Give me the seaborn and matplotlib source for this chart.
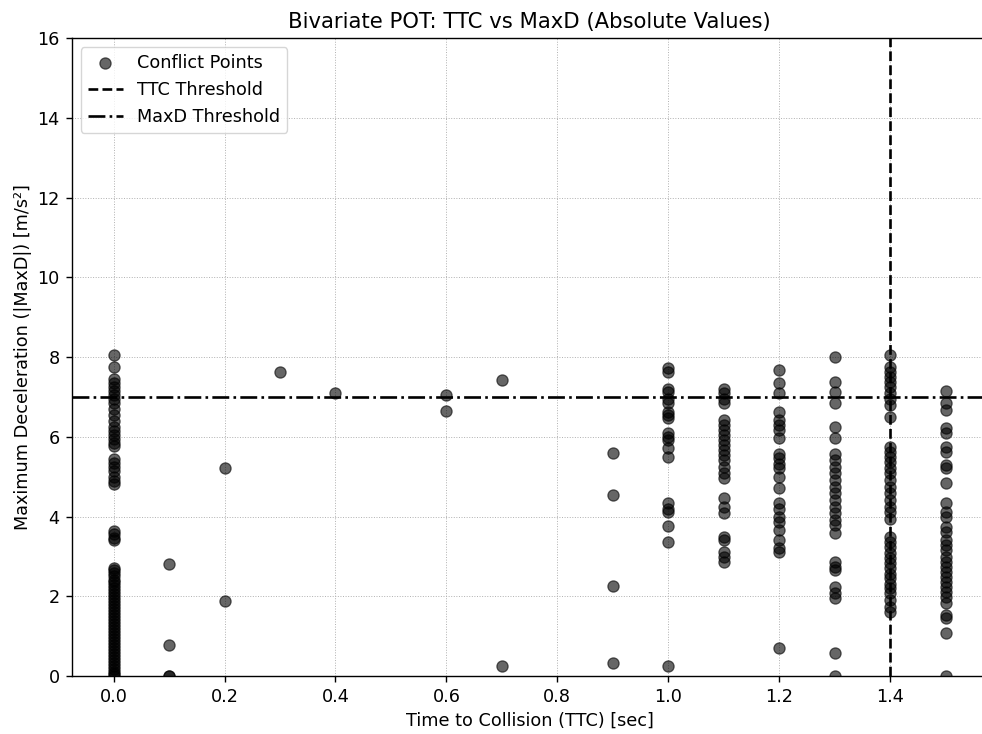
"""
Bivariate POT scatter: TTC vs absolute maximum deceleration,
with the TTC and MaxD threshold lines.
"""

import matplotlib
matplotlib.use('Agg')
import matplotlib.pyplot as plt
import numpy as np
import pandas as pd
import seaborn as sns

# MaxD values (m/s^2), grouped by TTC value (sec)
maxd_ttc_00 = [8.05, 7.75, 7.45, 7.35, 7.25, 7.15, 7.05, 6.95, 6.85, 6.7, 6.55,
               6.4, 6.25, 6.15, 6.05, 5.95, 5.85, 5.78, 5.45, 5.35, 5.25, 5.15,
               5.0, 4.9, 4.82, 3.65, 3.55, 3.45, 3.4, 2.72, 2.65, 2.58, 2.5,
               2.42, 2.35, 2.28, 2.2, 2.12, 2.05, 1.98, 1.9, 1.82, 1.75, 1.68,
               1.6, 1.52, 1.45, 1.38, 1.3, 1.22, 1.15, 1.08, 1.0, 0.92, 0.85,
               0.78, 0.7, 0.62, 0.55, 0.48, 0.4, 0.32, 0.25, 0.18, 0.1, 0.05, 0.0]
maxd_ttc_01 = [2.81, 0.78, 0.0, 0.0]
maxd_ttc_02 = [5.22, 1.89]
maxd_ttc_03 = [7.63]
maxd_ttc_04 = [7.10]
maxd_ttc_06 = [7.05, 6.65]
maxd_ttc_07 = [7.42, 0.25]
maxd_ttc_09 = [5.60, 4.53, 2.27, 0.32]
maxd_ttc_10 = [7.72, 7.63, 7.21, 7.13, 6.96, 6.84, 6.63, 6.55, 6.46, 6.09, 6.0,
               5.92, 5.71, 5.50, 4.33, 4.20, 4.12, 3.77, 3.35, 0.25]
maxd_ttc_11 = [7.21, 7.09, 6.96, 6.84, 6.42, 6.29, 6.17, 6.04, 5.92, 5.79, 5.67,
               5.54, 5.42, 5.25, 5.08, 4.96, 4.46, 4.25, 4.08, 3.49, 3.41, 3.12,
               2.99, 2.87]
maxd_ttc_12 = [7.67, 7.36, 7.09, 6.63, 6.42, 6.29, 6.17, 5.96, 5.58, 5.46, 5.33,
               5.21, 5.0, 4.71, 4.33, 4.20, 4.0, 3.87, 3.66, 3.41, 3.20, 3.12, 0.70]
maxd_ttc_13 = [7.99, 7.38, 7.13, 6.86, 6.24, 5.96, 5.58, 5.42, 5.25, 5.08, 4.92,
               4.75, 4.58, 4.41, 4.25, 4.08, 3.91, 3.79, 3.58, 2.87, 2.74, 2.66,
               2.24, 2.07, 1.95, 0.57, 0.0]
maxd_ttc_14 = [8.05, 7.76, 7.63, 7.51, 7.38, 7.26, 7.09, 6.96, 6.80, 6.50, 5.75,
               5.63, 5.50, 5.37, 5.21, 5.08, 4.92, 4.75, 4.58, 4.41, 4.25, 4.12,
               3.95, 3.49, 3.37, 3.24, 3.08, 2.95, 2.83, 2.70, 2.57, 2.45, 2.32,
               2.20, 2.07, 1.91, 1.74, 1.61]
maxd_ttc_15 = [7.16, 6.84, 6.67, 6.21, 6.09, 5.75, 5.63, 5.29, 5.21, 4.83, 4.33,
               4.12, 4.0, 3.74, 3.62, 3.41, 3.29, 3.16, 2.99, 2.87, 2.74, 2.62,
               2.49, 2.36, 2.24, 2.11, 1.99, 1.82, 1.53, 1.45, 1.07, 0.0]

ttc_groups = [0.0, 0.1, 0.2, 0.3, 0.4, 0.6, 0.7, 0.9, 1.0, 1.1, 1.2, 1.3, 1.4, 1.5]
maxd_groups = [maxd_ttc_00, maxd_ttc_01, maxd_ttc_02, maxd_ttc_03, maxd_ttc_04,
               maxd_ttc_06, maxd_ttc_07, maxd_ttc_09, maxd_ttc_10, maxd_ttc_11,
               maxd_ttc_12, maxd_ttc_13, maxd_ttc_14, maxd_ttc_15]

ttc_threshold = 1.4
maxd_threshold = 7.0


def build_frame() -> pd.DataFrame:
    rows = []
    for ttc, values in zip(ttc_groups, maxd_groups):
        for v in values:
            rows.append((ttc, v))
    return pd.DataFrame(rows, columns=['ttc', 'maxd'])


def main():
    df = build_frame()

    # reference was rendered ~1.27x the default scale
    plt.rcParams.update({
        'font.size': 12.7,
        'axes.linewidth': 1.0,
        'xtick.major.size': 4.4,
        'ytick.major.size': 4.4,
        'xtick.major.width': 1.0,
        'ytick.major.width': 1.0,
        'xtick.major.pad': 4.4,
        'ytick.major.pad': 4.4,
    })

    fig = plt.figure(figsize=(9.82, 7.34), dpi=100)
    ax = fig.add_axes([0.0733, 0.079, 0.932, 0.869])

    sns.scatterplot(data=df, x='ttc', y='maxd', ax=ax, color='black',
                    alpha=0.6, s=65, edgecolor='black', linewidth=0.9,
                    label='Conflict Points', zorder=3)
    ax.axvline(ttc_threshold, color='black', linestyle='--', linewidth=1.9,
               label='TTC Threshold')
    ax.axhline(maxd_threshold, color='black', linestyle='-.', linewidth=1.9,
               label='MaxD Threshold')

    ax.set_xlim(-0.075, 1.575)
    ax.set_ylim(0, 16)
    ax.set_xticks(np.arange(0, 1.41, 0.2))
    ax.set_yticks(np.arange(0, 17, 2))
    ax.set_xlabel('Time to Collision (TTC) [sec]')
    ax.set_ylabel('Maximum Deceleration (|MaxD|) [m/s²]')
    ax.set_title('Bivariate POT: TTC vs MaxD (Absolute Values)', fontsize=15.2,
                 pad=7.6)
    ax.spines['right'].set_visible(False)
    ax.grid(True, linestyle=':', linewidth=0.7, color='#b0b0b0')
    ax.legend(loc='upper left')

    fig.savefig('out.png', dpi=100)
    plt.close(fig)


if __name__ == '__main__':
    main()
